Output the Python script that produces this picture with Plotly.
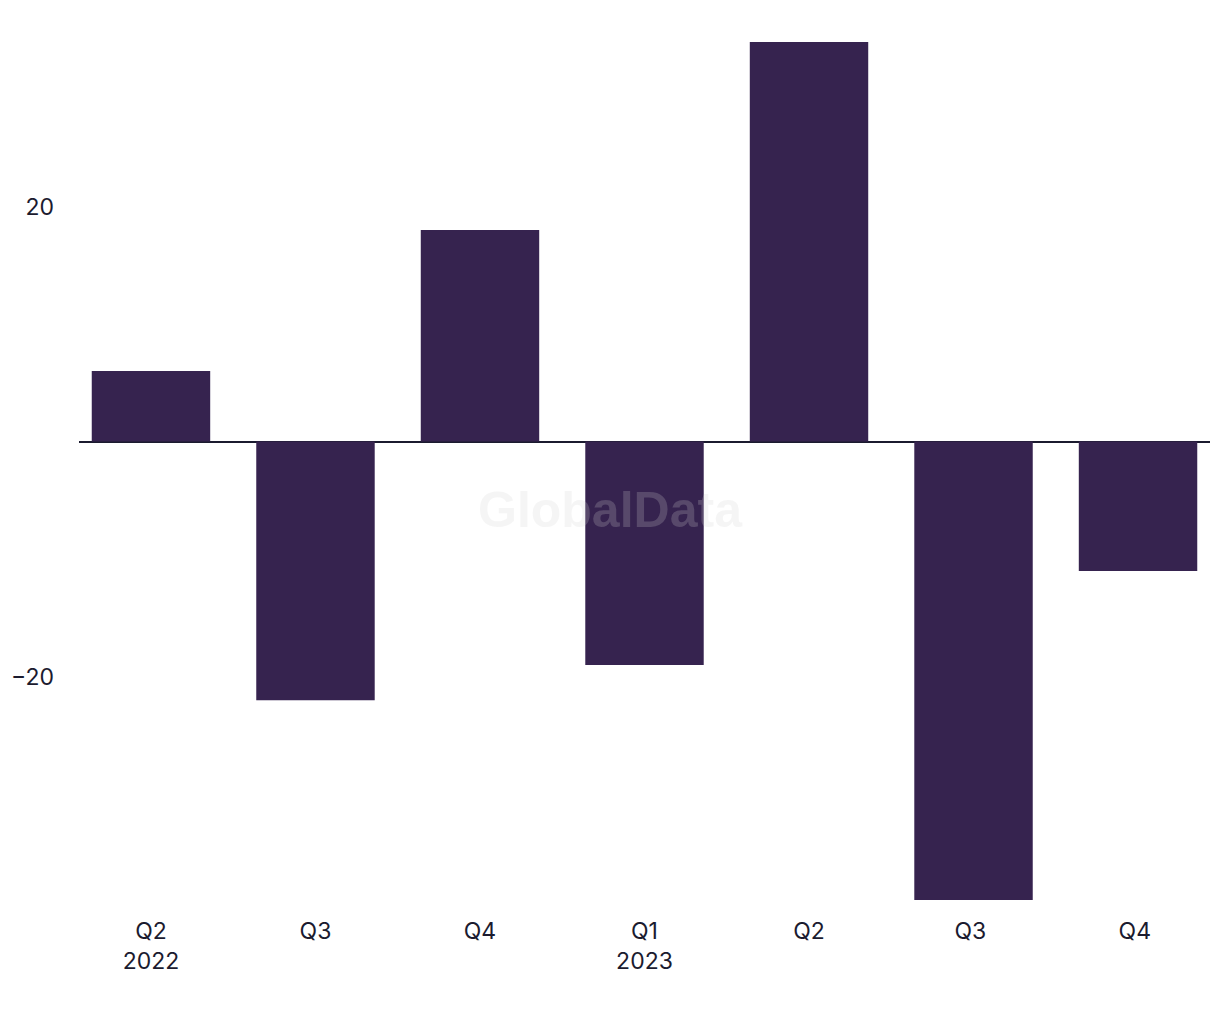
import plotly.graph_objects as go

categories = ["Q2<br>2022", "Q3", "Q4", "Q1<br>2023", "Q2", "Q3 ", "Q4 "]
values = [6.0, -22.0, 18.0, -19.0, 34.0, -39.0, -11.0]
ytick_vals = [-20, 20]
ytick_text = ["\u221220", "20"]

bar_color = "#36234F"
text_color = "#1b1b2f"

fig = go.Figure(go.Bar(
    x=list(range(len(categories))),
    y=values,
    marker=dict(color=bar_color, line=dict(width=0)),
    width=0.72,
    hoverinfo="skip",
))

fig.update_layout(
    width=1220, height=1020,
    margin=dict(l=79, r=10, t=42, b=120),
    paper_bgcolor="white", plot_bgcolor="white",
    showlegend=False,
    font=dict(family="Inter, Liberation Sans, Arial, sans-serif", size=23, color=text_color),
    xaxis=dict(
        tickmode="array",
        tickvals=list(range(len(categories))),
        ticktext=categories,
        range=[-0.4375, 6.4375],
        showgrid=False, zeroline=False, showline=False, ticks="",
        ticklabelstandoff=15,
    ),
    yaxis=dict(
        range=[-39.0, 34.0],
        tickmode="array", tickvals=ytick_vals, ticktext=ytick_text,
        showgrid=False, zeroline=True, zerolinecolor=text_color, zerolinewidth=2,
        showline=False, ticks="", ticklabelstandoff=24,
    ),
    annotations=[dict(
        text="<b>GlobalData</b>", x=0.4695, y=0.4545, xref="paper", yref="paper",
        showarrow=False, xanchor="center", yanchor="middle",
        font=dict(family="Liberation Sans, Arial, sans-serif", size=50,
                  color="rgba(210,210,210,0.22)"),
    )],
)

fig.write_html("out.html")
